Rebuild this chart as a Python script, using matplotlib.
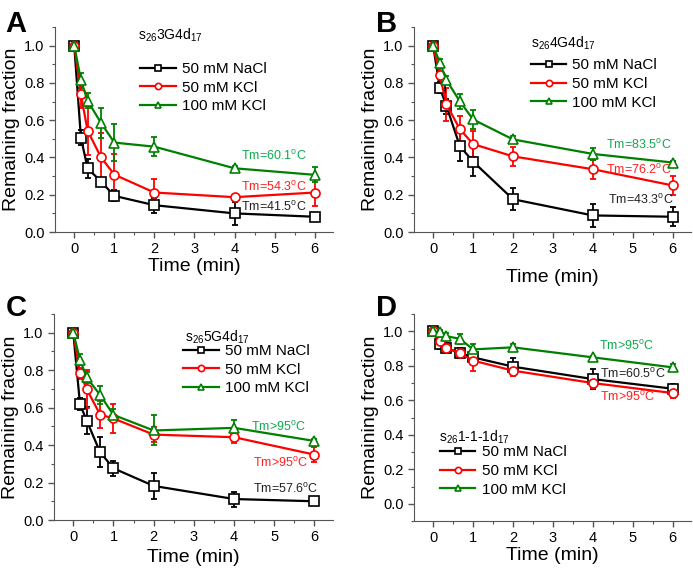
import matplotlib
matplotlib.use("Agg")
import matplotlib.pyplot as plt
from matplotlib.ticker import MultipleLocator

plt.rcParams['font.family'] = ['Liberation Sans', 'DejaVu Sans']
plt.rcParams['mathtext.fontset'] = 'custom'
plt.rcParams['mathtext.rm'] = 'Liberation Sans'
plt.rcParams['mathtext.it'] = 'Liberation Sans:italic'

# time points (min)
t = [0, 0.167, 0.333, 0.667, 1, 2, 4, 6]

# panel A: s26 3G4d17
a_nacl = [1.0, 0.506, 0.342, 0.271, 0.194, 0.144, 0.100, 0.082]
a_nacl_err = [0.0, 0.04, 0.05, 0.02, 0.03, 0.04, 0.06, 0.02]
a_kcl50 = [1.0, 0.738, 0.544, 0.401, 0.308, 0.212, 0.187, 0.212]
a_kcl50_err = [0.0, 0.07, 0.13, 0.13, 0.11, 0.07, 0.01, 0.07]
a_kcl100 = [1.0, 0.815, 0.704, 0.586, 0.480, 0.458, 0.342, 0.307]
a_kcl100_err = [0.0, 0.04, 0.04, 0.08, 0.10, 0.05, 0.01, 0.04]

# panel B: s26 4G4d17
b_nacl = [1.0, 0.775, 0.676, 0.462, 0.378, 0.176, 0.089, 0.082]
b_nacl_err = [0.0, 0.03, 0.04, 0.08, 0.08, 0.06, 0.06, 0.05]
b_kcl50 = [1.0, 0.841, 0.685, 0.553, 0.472, 0.406, 0.337, 0.250]
b_kcl50_err = [0.0, 0.04, 0.09, 0.07, 0.07, 0.05, 0.05, 0.05]
b_kcl100 = [1.0, 0.909, 0.815, 0.702, 0.604, 0.497, 0.419, 0.373]
b_kcl100_err = [0.0, 0.02, 0.02, 0.04, 0.05, 0.02, 0.03, 0.01]

# panel C: s26 5G4d17
c_nacl = [1.0, 0.619, 0.531, 0.362, 0.276, 0.182, 0.112, 0.100]
c_nacl_err = [0.0, 0.03, 0.07, 0.08, 0.04, 0.07, 0.04, 0.02]
c_kcl50 = [1.0, 0.784, 0.699, 0.563, 0.542, 0.456, 0.442, 0.349]
c_kcl50_err = [0.0, 0.03, 0.10, 0.07, 0.08, 0.04, 0.03, 0.04]
c_kcl100 = [1.0, 0.856, 0.761, 0.668, 0.561, 0.478, 0.492, 0.422]
c_kcl100_err = [0.0, 0.03, 0.03, 0.05, 0.03, 0.08, 0.04, 0.01]

# panel D: s26 1-1-1d17
d_nacl = [1.0, 0.926, 0.903, 0.874, 0.849, 0.795, 0.723, 0.667]
d_nacl_err = [0.0, 0.03, 0.03, 0.03, 0.04, 0.05, 0.06, 0.03]
d_kcl50 = [1.0, 0.946, 0.903, 0.874, 0.830, 0.772, 0.700, 0.642]
d_kcl50_err = [0.0, 0.02, 0.03, 0.03, 0.06, 0.03, 0.03, 0.03]
d_kcl100 = [1.0, 0.995, 0.971, 0.957, 0.895, 0.907, 0.849, 0.791]
d_kcl100_err = [0.0, 0.01, 0.02, 0.03, 0.03, 0.02, 0.01, 0.02]

labels = ["50 mM NaCl", "50 mM KCl", "100 mM KCl"]
titles = [r"s$_{\mathrm{26}}$3G4d$_{\mathrm{17}}$", r"s$_{\mathrm{26}}$4G4d$_{\mathrm{17}}$",
          r"s$_{\mathrm{26}}$5G4d$_{\mathrm{17}}$", r"s$_{\mathrm{26}}$1-1-1d$_{\mathrm{17}}$"]
# Tm annotations: (nacl, kcl50, kcl100)
tm_text = [["Tm=41.5$^{\\mathrm{o}}$C", "Tm=54.3$^{\\mathrm{o}}$C", "Tm=60.1$^{\\mathrm{o}}$C"],
           ["Tm=43.3$^{\\mathrm{o}}$C", "Tm=76.2$^{\\mathrm{o}}$C", "Tm=83.5$^{\\mathrm{o}}$C"],
           ["Tm=57.6$^{\\mathrm{o}}$C", "Tm>95$^{\\mathrm{o}}$C", "Tm>95$^{\\mathrm{o}}$C"],
           ["Tm=60.5$^{\\mathrm{o}}$C", "Tm>95$^{\\mathrm{o}}$C", "Tm>95$^{\\mathrm{o}}$C"]]

line_colors = ["black", "#ff0000", "#008000"]
text_colors = ["#222222", "#ff2020", "#10a850"]
markers = ["s", "o", "^"]

fig = plt.figure(figsize=(6.93, 5.68), dpi=100)

rects = [[0.0794, 0.5915, 0.4012, 0.3609],
         [0.5974, 0.5915, 0.3997, 0.3609],
         [0.0779, 0.0845, 0.4026, 0.3627],
         [0.5974, 0.0827, 0.3997, 0.3644]]
letters = ["A", "B", "C", "D"]
letter_pos = [(0.008, 0.982), (0.543, 0.982), (0.008, 0.482), (0.543, 0.482)]
ylims = [(0, 1.1), (0, 1.1), (0, 1.1), (-0.1, 1.1)]
xlabel_pad = [1, 9, 3, 1]
# annotation positions (x right edge, y) per series
tm_pos = [[(5.8, 0.134), (5.8, 0.244), (5.8, 0.41)],
          [(6.03, 0.173), (5.98, 0.333), (5.98, 0.47)],
          [(6.1, 0.166), (5.83, 0.305), (5.79, 0.496)],
          [(5.83, 0.752), (5.57, 0.617), (5.54, 0.913)]]
legend_anchor = [(0.285, 0.858), (0.401, 0.877), (0.442, 0.883), (0.073, 0.395)]
title_pos = [(0.299, 0.961), (0.422, 0.922), (0.47, 0.888), (0.09, 0.406)]

panels = [
    [(a_nacl, a_nacl_err), (a_kcl50, a_kcl50_err), (a_kcl100, a_kcl100_err)],
    [(b_nacl, b_nacl_err), (b_kcl50, b_kcl50_err), (b_kcl100, b_kcl100_err)],
    [(c_nacl, c_nacl_err), (c_kcl50, c_kcl50_err), (c_kcl100, c_kcl100_err)],
    [(d_nacl, d_nacl_err), (d_kcl50, d_kcl50_err), (d_kcl100, d_kcl100_err)],
]

for i, series in enumerate(panels):
    ax = fig.add_axes(rects[i])
    handles = []
    for j, (y, err) in enumerate(series):
        ax.errorbar(t, y, yerr=err, fmt="none", ecolor=line_colors[j],
                    elinewidth=1.3, capsize=2.5, capthick=1.3, zorder=2)
        h, = ax.plot(t, y, color=line_colors[j], lw=1.6, marker=markers[j],
                     ms=6.5, mfc="white", mec=line_colors[j], mew=1.2, zorder=3)
        handles.append(h)
        tx, ty = tm_pos[i][j]
        ax.text(tx, ty, tm_text[i][j], color=text_colors[j], fontsize=9,
                ha="right", va="center", zorder=4)

    leg = ax.legend(handles, labels, loc="upper left",
                    bbox_to_anchor=legend_anchor[i], frameon=False, fontsize=11,
                    handlelength=2.3, handletextpad=0.4,
                    labelspacing=0.3, borderaxespad=0)
    for lh in leg.legend_handles:
        lh.set_markersize(4.5)
    ax.text(title_pos[i][0], title_pos[i][1], titles[i], transform=ax.transAxes,
            fontsize=10, ha="left", va="center")

    ax.set_xlim(-0.48, 6.46)
    ax.set_ylim(*ylims[i])
    ax.xaxis.set_major_locator(MultipleLocator(1))
    ax.xaxis.set_minor_locator(MultipleLocator(0.5))
    ax.yaxis.set_minor_locator(MultipleLocator(0.1))
    ax.set_yticks([0, 0.2, 0.4, 0.6, 0.8, 1.0])
    ax.set_yticklabels(["0.0", "0.2", "0.4", "0.6", "0.8", "1.0"])
    ax.spines["top"].set_visible(False)
    ax.spines["right"].set_visible(False)
    ax.spines["left"].set_color("#555555")
    ax.spines["bottom"].set_color("#555555")
    ax.tick_params(which="major", direction="out", length=4, width=1,
                   color="#555555", labelsize=10.5)
    ax.tick_params(which="minor", direction="out", length=2.5, width=0.8,
                   color="#555555")
    ax.set_xlabel("Time (min)", fontsize=14, labelpad=xlabel_pad[i])
    ax.set_ylabel("Remaining fraction", fontsize=14)
    ax.yaxis.set_label_coords(-0.126, 0.5)

    fig.text(letter_pos[i][0], letter_pos[i][1], letters[i], fontsize=21,
             fontweight="bold", ha="left", va="top")

fig.savefig("out.png", dpi=100)
